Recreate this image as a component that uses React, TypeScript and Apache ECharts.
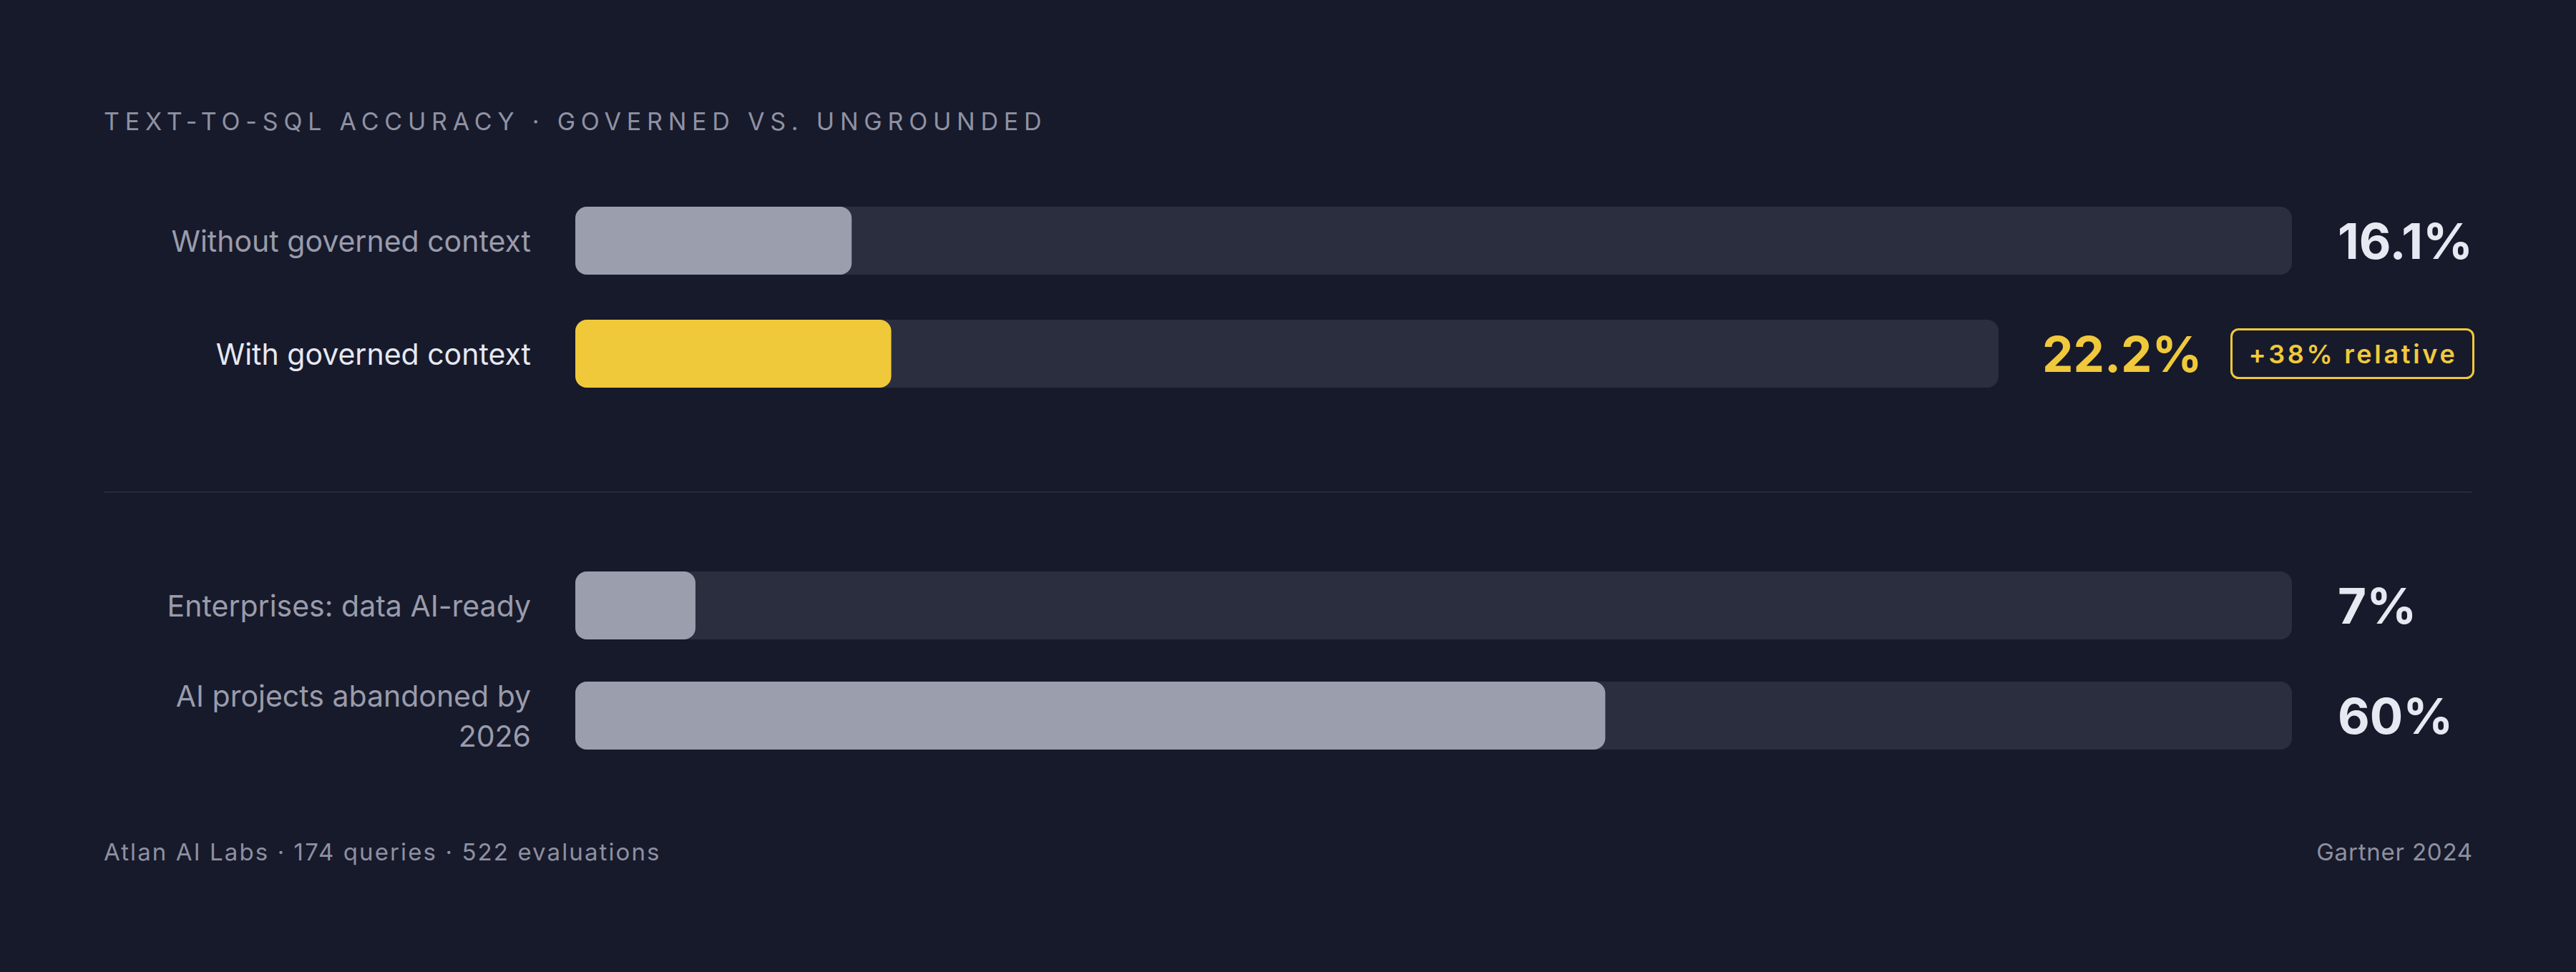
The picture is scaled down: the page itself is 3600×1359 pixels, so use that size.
import { useEffect, useRef } from "react";
import * as echarts from "echarts";

const TITLE = "TEXT-TO-SQL ACCURACY · GOVERNED VS. UNGROUNDED";
const categories = [
  "Without governed context",
  "With governed context",
  "Enterprises: data AI-ready",
  "AI projects abandoned by 2026",
];
const values = [16.1, 22.2, 7, 60];
const highlighted = [false, true, false, false];
const badgeText = "+38% relative";
const sourceLeft = "Atlan AI Labs · 174 queries · 522 evaluations";
const sourceRight = "Gartner 2024";

const BG = "#171a2b";
const TRACK = "#2b2e3f";
const GRAY = "#9b9ead";
const YELLOW = "#f0c93b";
const TEXT = "#e6e8f2";
const MUTED = "#9a9cab";
const TITLE_COLOR = "#8f92a3";
const BADGE_COLOR = "#f1c93c";
const FOOT_LEFT = "#8e90a1";
const FOOT_RIGHT = "#8e90a0";
const FONT = "Inter, 'Noto Sans', sans-serif";

// layout of each row (px)
const rowTop = [289, 447, 799, 953];
const rowRight = [397, 807, 397, 397];
const BAR_H = 95;
const TRACK_LEFT = 804;
const LABEL_SIZE = 41;
const LABEL_WIDTH = 540;

// greedy word wrap so that wrapped lines keep no trailing space
function wrap(text: string): string {
  const ctx = document.createElement("canvas").getContext("2d");
  if (!ctx) return text;
  ctx.font = `${LABEL_SIZE}px ${FONT}`;
  const lines: string[] = [];
  let cur = "";
  for (const w of text.split(" ")) {
    const next = cur ? `${cur} ${w}` : w;
    if (cur && ctx.measureText(next).width > LABEL_WIDTH) {
      lines.push(cur);
      cur = w;
    } else {
      cur = next;
    }
  }
  if (cur) lines.push(cur);
  return lines.join("\n");
}

export default function App() {
  const chartRef = useRef<HTMLDivElement>(null);

  useEffect(() => {
    if (!chartRef.current) return;
    const chart = echarts.init(chartRef.current, undefined, { renderer: "svg" });

    const fmt = (v: number) => `${v}%`;

    const grid = categories.map((_, i) => ({
      left: TRACK_LEFT,
      right: rowRight[i],
      top: rowTop[i],
      height: BAR_H,
    }));

    const xAxis = categories.map((_, i) => ({
      type: "value" as const,
      gridIndex: i,
      min: 0,
      max: 100,
      show: false,
    }));

    const yAxis: any[] = [];
    categories.forEach((name, i) => {
      yAxis.push({
        type: "category",
        gridIndex: i,
        data: [name],
        position: "left",
        axisLine: { show: false },
        axisTick: { show: false },
        axisLabel: {
          margin: 62,
          align: "right",
          fontFamily: FONT,
          fontSize: LABEL_SIZE,
          lineHeight: 56,
          color: highlighted[i] ? TEXT : MUTED,
          formatter: (v: string) => wrap(v),
        },
      });
      yAxis.push({
        type: "category",
        gridIndex: i,
        data: [name],
        position: "right",
        axisLine: { show: false },
        axisTick: { show: false },
        axisLabel: {
          margin: highlighted[i] ? 61 : 64,
          align: "left",
          formatter: () =>
            highlighted[i] ? `{v|${fmt(values[i])}}{b|${badgeText}}` : `{w|${fmt(values[i])}}`,
          rich: {
            w: {
              fontFamily: FONT,
              fontSize: 69,
              fontWeight: 700,
              color: TEXT,
            },
            v: {
              fontFamily: FONT,
              fontSize: 69,
              fontWeight: 700,
              color: YELLOW,
              padding: [0, 41, 0, 0],
              verticalAlign: "middle",
            },
            b: {
              fontFamily: FONT,
              fontSize: 36,
              fontWeight: 600,
              color: BADGE_COLOR,
              borderColor: YELLOW,
              borderWidth: 3,
              borderRadius: 10,
              lineHeight: 37,
              padding: [16, 24],
              width: 290,
              align: "left",
              verticalAlign: "middle",
            },
          },
        },
      });
    });

    const series = categories.map((_, i) => ({
      type: "bar" as const,
      xAxisIndex: i,
      yAxisIndex: i * 2,
      data: [values[i]],
      barWidth: BAR_H,
      showBackground: true,
      backgroundStyle: { color: TRACK, borderRadius: 16 },
      itemStyle: { color: highlighted[i] ? YELLOW : GRAY, borderRadius: 16 },
      silent: true,
    }));

    chart.setOption({
      animation: false,
      backgroundColor: BG,
      grid,
      xAxis,
      yAxis,
      series,
      graphic: [
        {
          type: "text",
          x: 145,
          y: 169,
          style: {
            text: TITLE,
            fill: TITLE_COLOR,
            fontFamily: FONT,
            fontSize: 34,
            align: "left",
            verticalAlign: "middle",
          },
        },
        {
          type: "line",
          shape: { x1: 145, y1: 688, x2: 3455, y2: 688 },
          style: { stroke: "#272a3c", lineWidth: 2 },
        },
        {
          type: "text",
          x: 145,
          y: 1191,
          style: {
            text: sourceLeft,
            fill: FOOT_LEFT,
            fontFamily: FONT,
            fontSize: 33,
            align: "left",
            verticalAlign: "middle",
          },
        },
        {
          type: "text",
          x: 3456,
          y: 1191,
          style: {
            text: sourceRight,
            fill: FOOT_RIGHT,
            fontFamily: FONT,
            fontSize: 33,
            align: "right",
            verticalAlign: "middle",
          },
        },
      ],
    });

    return () => chart.dispose();
  }, []);

  return (
    <>
      <style>{`
        svg text[fill="${TITLE_COLOR}"] { letter-spacing: 7.8px; }
        svg text[fill="${BADGE_COLOR}"] { letter-spacing: 3.7px; }
        svg text[fill="${FOOT_LEFT}"] { letter-spacing: 2.1px; }
        svg text[fill="${FOOT_RIGHT}"] { letter-spacing: 0.8px; }
      `}</style>
      <div
        ref={chartRef}
        style={{ position: "fixed", left: 0, top: 0, width: 3600, height: 1359, background: BG }}
      />
    </>
  );
}
